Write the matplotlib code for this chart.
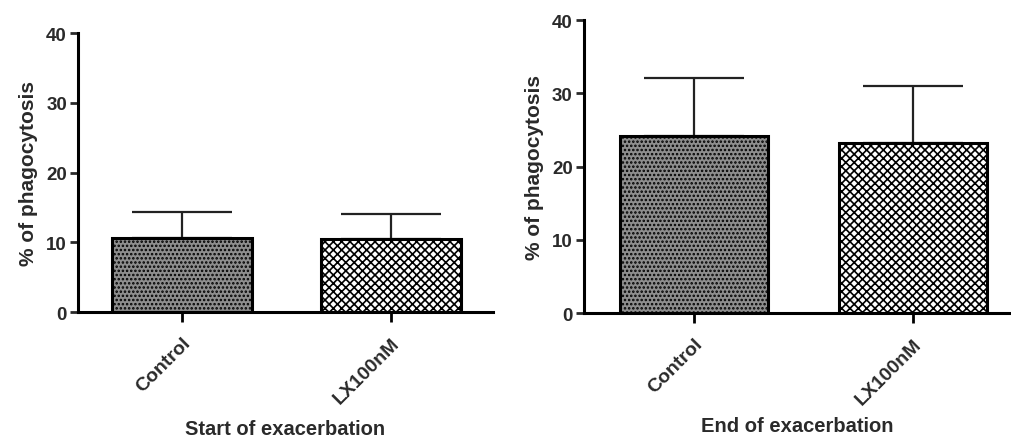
import numpy as np
import matplotlib
matplotlib.use("Agg")
import matplotlib.pyplot as plt

plt.rcParams['font.family'] = ['Liberation Sans', 'DejaVu Sans']
plt.rcParams['font.weight'] = 'bold'
plt.rcParams['axes.labelweight'] = 'bold'
plt.rcParams['hatch.linewidth'] = 1.2

groups = ["Control", "LX100nM"]
start_mean = [10.6, 10.5]
start_err = [3.7, 3.5]
end_mean = [24.2, 23.2]
end_err = [7.9, 7.8]
panel_titles = ["Start of exacerbation", "End of exacerbation"]

fig = plt.figure(figsize=(10.11, 4.39), dpi=100)
ax1 = fig.add_axes([0.0772, 0.287, 0.4105, 0.6355])
ax2 = fig.add_axes([0.5776, 0.2847, 0.4224, 0.6673])

txt = "#2a2a2a"


def draw_panel(ax, means, errs, xlabel, width, xlim, lpad):
    x = np.arange(len(groups))
    ax.bar(x[0], means[0], width=width, color="#8e8e8e", edgecolor="black",
           linewidth=2.2, hatch="....", zorder=2)
    ax.bar(x[1], means[1], width=width, color="white", edgecolor="black",
           linewidth=2.2, hatch="xxxx", zorder=2)
    ax.errorbar(x, means, yerr=[np.zeros(len(errs)), errs], fmt="none",
                ecolor="#222222", elinewidth=1.6, capsize=36, capthick=1.6, zorder=1)
    ax.set_xlim(*xlim)
    ax.set_ylim(0, 40)
    ax.set_yticks([0, 10, 20, 30, 40])
    ax.set_xticks(x)
    ax.set_xticklabels(groups, rotation=45, ha="right", rotation_mode="anchor",
                       fontsize=14, color=txt)
    ax.tick_params(axis="y", labelsize=13.5, colors=txt, width=2, length=6, pad=2)
    ax.tick_params(axis="x", width=2, length=7, pad=9)
    for s in ["top", "right"]:
        ax.spines[s].set_visible(False)
    for s in ["left", "bottom"]:
        ax.spines[s].set_linewidth(2.2)
    ax.set_ylabel("% of phagocytosis", fontsize=15, color=txt, labelpad=6)
    ax.set_xlabel(xlabel, fontsize=14.5, color=txt, labelpad=lpad)


draw_panel(ax1, start_mean, start_err, panel_titles[0], 0.67, (-0.498, 1.488), 9)
draw_panel(ax2, end_mean, end_err, panel_titles[1], 0.676, (-0.502, 1.447), 6)

fig.savefig("out.png", dpi=100)
